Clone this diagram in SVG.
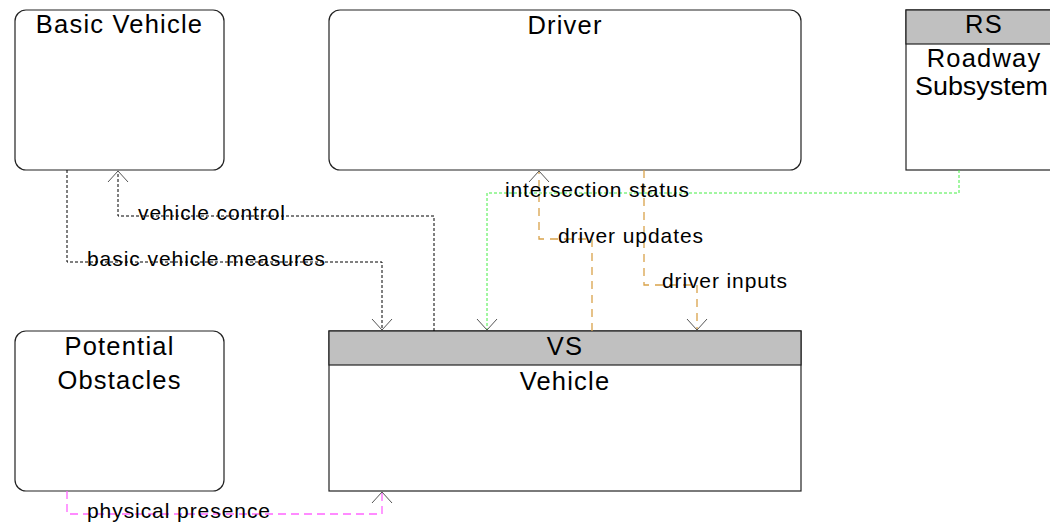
<svg xmlns="http://www.w3.org/2000/svg" width="1050" height="527" viewBox="0 0 1050 527">
<style>
.box{fill:#fff;stroke:#222;stroke-width:1.2}
.hdr{fill:#c0c0c0;stroke:#222;stroke-width:1.2}
.t{font-family:"Liberation Sans",Arial,sans-serif;font-size:25.5px;letter-spacing:1.2px;fill:#000;text-anchor:middle}
.l{font-family:"Liberation Sans",Arial,sans-serif;font-size:21px;fill:#000}
.c{fill:none;stroke-width:1}
.blk{stroke:#000;stroke-dasharray:3 2}
.grn{stroke:#44ee44;stroke-dasharray:3 2}
.org{stroke:#d9a24a;stroke-dasharray:8 6;stroke-width:1.3}
.mag{stroke:#ff66ff;stroke-dasharray:8 5;stroke-width:1.3}
</style>
<defs>
<marker id="ah" markerUnits="userSpaceOnUse" markerWidth="30" markerHeight="30" viewBox="-15 -15 30 30" refX="0" refY="0" orient="auto" overflow="visible">
<path d="M-11,-10 L0,0 L-11,10" fill="none" stroke="#555" stroke-width="1"/>
</marker>
</defs>
<rect width="1050" height="527" fill="#fff"/>
<g id="basic-vehicle">
<rect class="box" x="15" y="10" width="209" height="160" rx="11"/>
<text class="t" x="119.5" y="33">Basic Vehicle</text>
</g>
<g id="driver">
<rect class="box" x="329" y="10" width="472" height="160" rx="11"/>
<text class="t" x="565" y="34">Driver</text>
</g>
<g id="rs">
<rect class="box" x="906" y="10" width="156" height="160"/>
<rect class="hdr" x="906" y="10" width="156" height="34"/>
<text class="t" x="984" y="33">RS</text>
<text class="t" x="984" y="67">Roadway</text>
<text class="l" x="915" y="95" style="font-size:25px" textLength="133" lengthAdjust="spacingAndGlyphs">Subsystem</text>
</g>
<g id="potential-obstacles">
<rect class="box" x="15" y="331" width="209" height="160" rx="11"/>
<text class="t" x="119.5" y="355">Potential</text>
<text class="t" x="119.5" y="389">Obstacles</text>
</g>
<g id="vs">
<rect class="box" x="329" y="331" width="472" height="160"/>
<rect class="hdr" x="329" y="331" width="472" height="34"/>
<text class="t" x="565" y="355">VS</text>
<text class="t" x="565" y="390">Vehicle</text>
</g>
<g id="connectors">
<path class="c blk" d="M434,331 V216 H118 V171" marker-end="url(#ah)"/>
<path class="c blk" d="M67,170 V262 H382 V330" marker-end="url(#ah)"/>
<path class="c grn" d="M959,170 V193 H487 V330" marker-end="url(#ah)"/>
<path class="c org" d="M592,331 V239 H539 V171" marker-end="url(#ah)"/>
<path class="c org" d="M644,170 V285 H697 V330" marker-end="url(#ah)"/>
<path class="c mag" d="M67,491 V514 H382 V492" marker-end="url(#ah)"/>
<text class="l" x="138" y="220" textLength="147" lengthAdjust="spacing">vehicle control</text>
<text class="l" x="87" y="266" textLength="238" lengthAdjust="spacing">basic vehicle measures</text>
<text class="l" x="505" y="197" textLength="184" lengthAdjust="spacing">intersection status</text>
<text class="l" x="558" y="243" textLength="145" lengthAdjust="spacing">driver updates</text>
<text class="l" x="662" y="288" textLength="125" lengthAdjust="spacing">driver inputs</text>
<text class="l" x="87" y="518" textLength="183" lengthAdjust="spacing">physical presence</text>
</g>
</svg>
